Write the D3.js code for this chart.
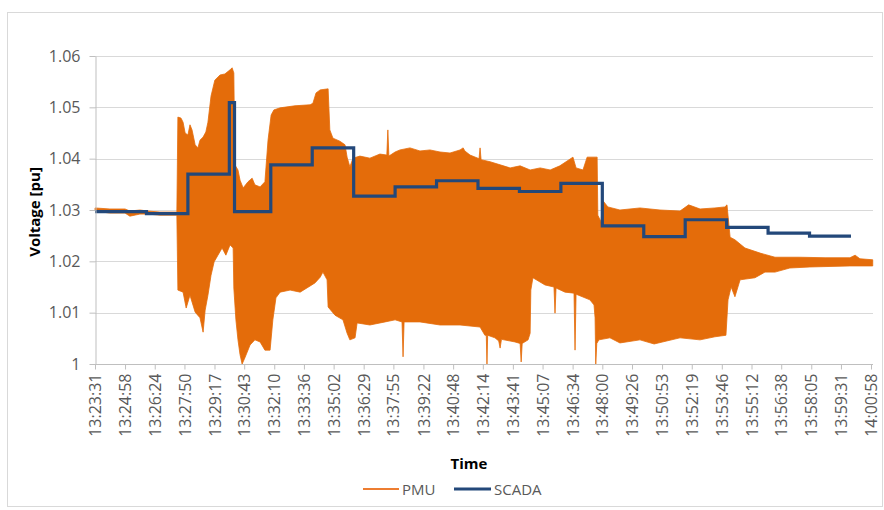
<!DOCTYPE html>
<html>
<head>
<meta charset="utf-8">
<script src="https://cdn.jsdelivr.net/npm/d3@7/dist/d3.min.js"></script>
<style>
  html, body { margin: 0; padding: 0; background: #fff; }
  svg { display: block; }
  text { font-family: "Open Sans", "Noto Sans", sans-serif; }
</style>
</head>
<body>
<svg id="chart" width="884" height="510"></svg>
<script>
// ---------------- DATA ----------------
const xTickLabels = ["13:23:31","13:24:58","13:26:24","13:27:50","13:29:17","13:30:43","13:32:10","13:33:36",
  "13:35:02","13:36:29","13:37:55","13:39:22","13:40:48","13:42:14","13:43:41","13:45:07","13:46:34",
  "13:48:00","13:49:26","13:50:53","13:52:19","13:53:46","13:55:12","13:56:38","13:58:05","13:59:31","14:00:58"];
const yTicks = [1, 1.01, 1.02, 1.03, 1.04, 1.05, 1.06];
const yTickLabels = ["1", "1.01", "1.02", "1.03", "1.04", "1.05", "1.06"];

// SCADA (step values, each held until the next time stamp)
const scadaTimes = ["13:23:31","13:26:00","13:28:00","13:30:00","13:30:15","13:32:00","13:34:00","13:36:00",
  "13:38:00","13:40:00","13:42:00","13:44:00","13:46:00","13:48:00","13:50:00","13:52:00","13:54:00",
  "13:56:00","13:58:00","14:00:00"];
const scadaValues = [1.0297,1.0293,1.0370,1.0509,1.0297,1.0388,1.0421,1.0327,1.0345,1.0357,1.0342,1.0336,
  1.0352,1.0269,1.0248,1.0281,1.0266,1.0255,1.0249,1.0249];

// PMU: upper envelope of the fast oscillating signal
const pmuUpper = [["13:23:31",1.0304],["13:24:14",1.0302],["13:24:58",1.0302],["13:25:12",1.0298],["13:25:41",1.0300],
  ["13:26:04",1.0298],["13:26:39",1.0296],["13:27:28",1.0296],["13:27:31",1.0481],["13:27:40",1.0479],["13:27:46",1.0471],
  ["13:27:52",1.0450],["13:28:00",1.0446],["13:28:06",1.0466],["13:28:12",1.0456],["13:28:21",1.0427],["13:28:29",1.0421],
  ["13:28:35",1.0436],["13:28:44",1.0442],["13:28:52",1.0452],["13:28:58",1.0471],["13:29:07",1.0522],["13:29:18",1.0553],
  ["13:29:33",1.0563],["13:29:47",1.0565],["13:30:02",1.0573],["13:30:08",1.0577],["13:30:13",1.0567],["13:30:16",1.0388],
  ["13:30:25",1.0378],["13:30:31",1.0358],["13:30:40",1.0343],["13:30:54",1.0355],["13:31:06",1.0362],["13:31:14",1.0349],
  ["13:31:29",1.0345],["13:31:43",1.0355],["13:31:52",1.0436],["13:32:01",1.0485],["13:32:09",1.0495],["13:32:27",1.0499],
  ["13:33:10",1.0503],["13:33:54",1.0505],["13:34:02",1.0508],["13:34:11",1.0528],["13:34:23",1.0534],["13:34:46",1.0536],
  ["13:34:51",1.0456],["13:35:00",1.0440],["13:35:20",1.0434],["13:35:35",1.0427],["13:35:41",1.0403],["13:35:49",1.0384],
  ["13:35:58",1.0401],["13:36:18",1.0405],["13:36:47",1.0401],["13:37:16",1.0409],["13:37:36",1.0407],["13:37:39",1.0456],
  ["13:37:42",1.0405],["13:38:00",1.0413],["13:38:14",1.0417],["13:38:43",1.0421],["13:39:12",1.0415],["13:39:41",1.0417],
  ["13:40:10",1.0413],["13:40:39",1.0411],["13:41:08",1.0417],["13:41:17",1.0421],["13:41:22",1.0415],["13:41:37",1.0407],
  ["13:42:03",1.0400],["13:42:06",1.0421],["13:42:09",1.0398],["13:42:35",1.0394],["13:43:04",1.0388],["13:43:33",1.0382],
  ["13:44:02",1.0386],["13:44:31",1.0378],["13:45:00",1.0382],["13:45:29",1.0378],["13:45:57",1.0386],["13:46:35",1.0403],
  ["13:46:44",1.0382],["13:47:04",1.0378],["13:47:16",1.0403],["13:47:45",1.0403],["13:47:47",1.0290],["13:47:56",1.0277],
  ["13:48:02",1.0318],["13:48:16",1.0306],["13:48:51",1.0300],["13:49:49",1.0304],["13:50:47",1.0300],["13:51:45",1.0298],
  ["13:52:10",1.0310],["13:52:43",1.0302],["13:53:26",1.0304],["13:53:55",1.0306],["13:54:01",1.0310],["13:54:10",1.0247],
  ["13:54:24",1.0242],["13:54:53",1.0226],["13:55:37",1.0216],["13:56:20",1.0208],["13:57:32",1.0208],["13:58:45",1.0207],
  ["13:59:57",1.0207],["14:00:12",1.0212],["14:00:26",1.0205],["14:01:03",1.0203]];

// PMU: lower envelope
const pmuLower = [["13:23:31",1.0298],["13:24:14",1.0294],["13:24:58",1.0294],["13:25:12",1.0288],["13:25:41",1.0292],
  ["13:26:04",1.0292],["13:26:39",1.0290],["13:27:28",1.0290],["13:27:31",1.0144],["13:27:46",1.0140],["13:27:55",1.0109],
  ["13:28:06",1.0134],["13:28:21",1.0101],["13:28:35",1.0090],["13:28:44",1.0062],["13:28:50",1.0105],["13:28:58",1.0134],
  ["13:29:07",1.0173],["13:29:16",1.0199],["13:29:27",1.0212],["13:29:39",1.0226],["13:29:50",1.0212],["13:30:02",1.0232],
  ["13:30:11",1.0226],["13:30:13",1.0148],["13:30:19",1.0086],["13:30:25",1.0047],["13:30:31",1.0018],["13:30:37",1.0000],
  ["13:30:45",1.0012],["13:31:00",1.0037],["13:31:14",1.0047],["13:31:29",1.0043],["13:31:43",1.0027],["13:31:58",1.0027],
  ["13:32:06",1.0086],["13:32:15",1.0129],["13:32:27",1.0140],["13:32:56",1.0144],["13:33:25",1.0140],["13:33:54",1.0152],
  ["13:34:08",1.0158],["13:34:23",1.0169],["13:34:31",1.0179],["13:34:43",1.0164],["13:34:46",1.0111],["13:35:06",1.0095],
  ["13:35:29",1.0086],["13:35:41",1.0060],["13:35:49",1.0047],["13:36:04",1.0051],["13:36:10",1.0080],["13:36:47",1.0076],
  ["13:37:31",1.0082],["13:38:00",1.0086],["13:38:20",1.0082],["13:38:23",1.0014],["13:38:26",1.0082],["13:39:12",1.0082],
  ["13:40:10",1.0076],["13:41:08",1.0076],["13:42:06",1.0072],["13:42:20",1.0056],["13:42:24",1.0056],["13:42:26",1.0000],
  ["13:42:28",1.0056],["13:42:49",1.0051],["13:43:00",1.0045],["13:43:04",1.0031],["13:43:08",1.0048],["13:43:47",1.0043],
  ["13:44:02",1.0040],["13:44:05",1.0004],["13:44:08",1.0040],["13:44:25",1.0047],["13:44:31",1.0060],["13:44:33",1.0144],
  ["13:44:39",1.0168],["13:45:14",1.0154],["13:45:40",1.0150],["13:45:43",1.0099],["13:45:46",1.0148],["13:46:12",1.0140],
  ["13:46:38",1.0138],["13:46:41",1.0027],["13:46:44",1.0136],["13:47:24",1.0125],["13:47:36",1.0115],["13:47:39",1.0090],
  ["13:47:41",1.0000],["13:47:44",1.0040],["13:47:50",1.0047],["13:48:22",1.0051],["13:48:51",1.0041],["13:49:49",1.0047],
  ["13:50:30",1.0039],["13:51:45",1.0051],["13:52:43",1.0047],["13:53:26",1.0053],["13:53:58",1.0056],["13:54:04",1.0125],
  ["13:54:13",1.0150],["13:54:24",1.0131],["13:54:39",1.0164],["13:55:22",1.0168],["13:55:51",1.0179],["13:56:20",1.0179],
  ["13:57:03",1.0187],["13:58:01",1.0189],["13:59:57",1.0191],["14:01:03",1.0191]];

const seriesNames = ["PMU", "SCADA"];
const xTitle = "Time";
const yTitle = "Voltage [pu]";

// ---------------- DRAW ----------------
const toSec = s => { const [h, m, c] = s.split(":").map(Number); return h * 3600 + m * 60 + c; };
const fmtSec = v => {
  const h = Math.floor(v / 3600), m = Math.floor((v % 3600) / 60), c = v % 60;
  return `${h}:${String(m).padStart(2, "0")}:${String(c).padStart(2, "0")}`;
};

const COLORS = { pmu: "#E46C0A", pmuLegend: "#ED7D31", scada: "#23487A", grid: "#D9D9D9", axis: "#BFBFBF", text: "#595959" };
const plot = { left: 95, right: 871, top: 56, bottom: 364 };

const svg = d3.select("#chart");

// outer chart border
svg.append("rect").attr("x", 7.5).attr("y", 12.5).attr("width", 875).attr("height", 494)
  .attr("fill", "#fff").attr("stroke", COLORS.grid).attr("stroke-width", 1);

const x = d3.scaleLinear()
  .domain([toSec(xTickLabels[0]), toSec(xTickLabels[xTickLabels.length - 1])])
  .range([plot.left, plot.right]);
const y = d3.scaleLinear().domain([yTicks[0], yTicks[yTicks.length - 1]]).range([plot.bottom, plot.top]);

// gridlines
svg.append("g").selectAll("line").data(yTicks.slice(1)).join("line")
  .attr("x1", plot.left).attr("x2", plot.right + 2)
  .attr("y1", d => Math.round(y(d)) + 0.5).attr("y2", d => Math.round(y(d)) + 0.5)
  .attr("stroke", COLORS.grid).attr("stroke-width", 1);

// PMU band
const pmuPoly = pmuUpper.concat(pmuLower.slice().reverse());
const pmuLine = d3.line().x(d => x(toSec(d[0]))).y(d => y(d[1])).curve(d3.curveLinearClosed);
svg.append("path").attr("d", pmuLine(pmuPoly))
  .attr("fill", COLORS.pmu).attr("stroke", COLORS.pmu).attr("stroke-width", 0.8).attr("stroke-linejoin", "round");

// SCADA step line
const scadaData = scadaTimes.map((t, i) => [toSec(t), scadaValues[i]]);
const scadaLine = d3.line().x(d => x(d[0])).y(d => y(d[1])).curve(d3.curveStepAfter);
svg.append("path").attr("d", scadaLine(scadaData))
  .attr("fill", "none").attr("stroke", COLORS.scada).attr("stroke-width", 3.2).attr("stroke-linejoin", "miter");

// Y axis
const yAxis = d3.axisLeft(y).tickValues(yTicks).tickFormat((d, i) => yTickLabels[i]).tickSizeInner(6).tickSizeOuter(0).tickPadding(9);
const gy = svg.append("g").attr("transform", `translate(${plot.left + 0.5},0)`).call(yAxis);
gy.select(".domain").attr("stroke", COLORS.axis);
gy.selectAll(".tick line").attr("stroke", COLORS.axis);
gy.selectAll(".tick text").attr("fill", COLORS.text).style("font-size", "16px").style("font-family", "'Open Sans', sans-serif");

// X axis
const xAxis = d3.axisBottom(x).tickValues(xTickLabels.map(toSec)).tickFormat(fmtSec).tickSizeInner(5).tickSizeOuter(0);
const gx = svg.append("g").attr("transform", `translate(0,${plot.bottom + 0.5})`).call(xAxis);
gx.select(".domain").attr("stroke", COLORS.axis).attr("d", `M${plot.left},0H${plot.right + 2}`);
gx.selectAll(".tick line").attr("stroke", COLORS.axis);
gx.selectAll(".tick text")
  .attr("transform", "rotate(-90)").attr("text-anchor", "end")
  .attr("x", -9).attr("y", 0).attr("dy", "0.35em")
  .attr("fill", COLORS.text).style("font-size", "16px").style("font-family", "'Open Sans', sans-serif");

// axis titles
svg.append("text").attr("x", 469).attr("y", 469).attr("text-anchor", "middle")
  .style("font-size", "15px").style("font-weight", "bold").attr("fill", "#000").text(xTitle);
svg.append("text").attr("transform", "translate(40,212) rotate(-90)").attr("text-anchor", "middle")
  .style("font-size", "15px").style("font-weight", "bold").attr("fill", "#000").text(yTitle);

// legend
const legend = svg.append("g");
const legendItems = [
  { name: seriesNames[0], x1: 363, x2: 399, color: COLORS.pmuLegend, w: 2 },
  { name: seriesNames[1], x1: 454, x2: 491, color: COLORS.scada, w: 3 }
];
legendItems.forEach(it => {
  legend.append("line").attr("x1", it.x1).attr("x2", it.x2).attr("y1", 489).attr("y2", 489)
    .attr("stroke", it.color).attr("stroke-width", it.w);
  legend.append("text").attr("x", it.x2 + 3).attr("y", 494.5).attr("fill", COLORS.text)
    .style("font-size", "15px").text(it.name);
});
</script>
</body>
</html>
